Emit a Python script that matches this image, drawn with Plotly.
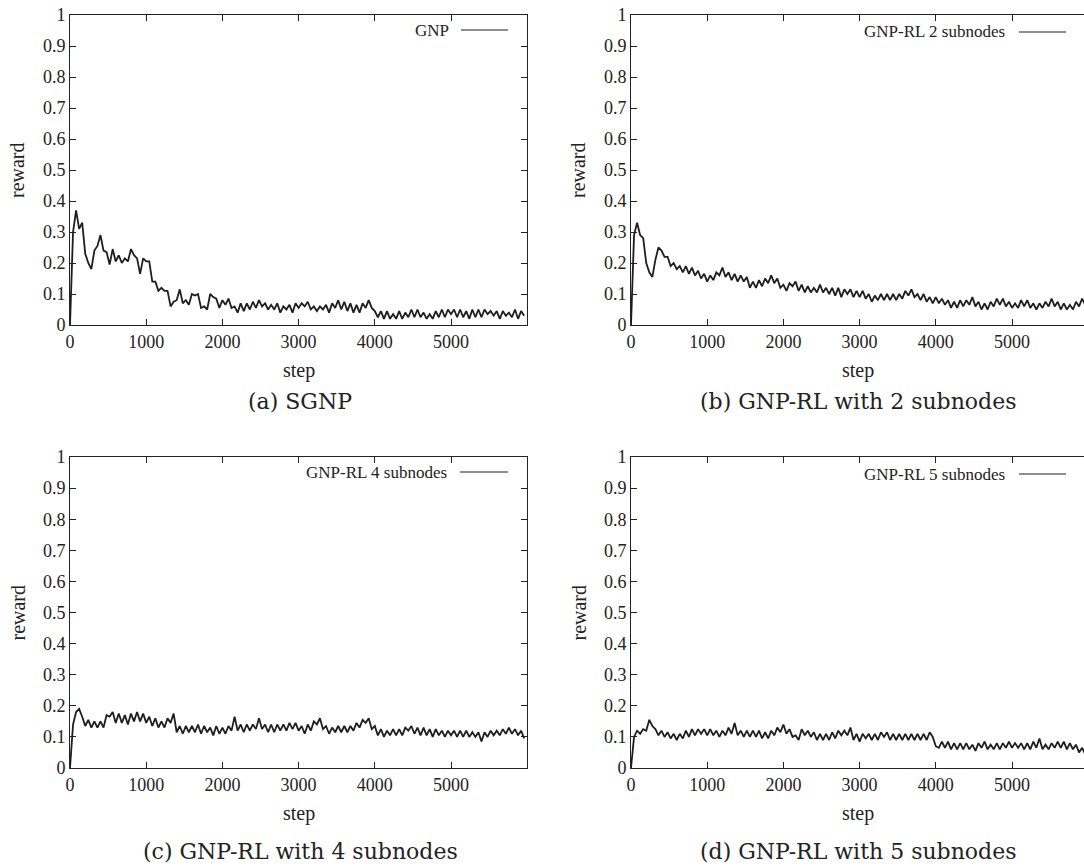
import plotly.graph_objects as go

# ---------------- data (every 40 steps) ----------------
steps = list(range(0, 6000, 40))

reward_sgnp = [
    0.00, 0.30, 0.37, 0.31, 0.33, 0.23, 0.20, 0.18, 0.24, 0.255,
    0.29, 0.24, 0.235, 0.195, 0.245, 0.205, 0.225, 0.20, 0.215, 0.205,
    0.245, 0.225, 0.215, 0.165, 0.215, 0.205, 0.205, 0.14, 0.14, 0.11,
    0.12, 0.11, 0.11, 0.06, 0.075, 0.08, 0.115, 0.07, 0.08, 0.065,
    0.10, 0.095, 0.10, 0.055, 0.06, 0.05, 0.10, 0.09, 0.085, 0.055,
    0.08, 0.065, 0.085, 0.055, 0.06, 0.04, 0.07, 0.045, 0.07, 0.05,
    0.075, 0.055, 0.08, 0.06, 0.07, 0.05, 0.065, 0.05, 0.07, 0.04,
    0.06, 0.05, 0.065, 0.04, 0.07, 0.055, 0.07, 0.06, 0.075, 0.05,
    0.06, 0.045, 0.06, 0.05, 0.065, 0.04, 0.07, 0.055, 0.08, 0.05,
    0.075, 0.045, 0.07, 0.04, 0.065, 0.04, 0.07, 0.055, 0.08, 0.055,
    0.045, 0.025, 0.045, 0.02, 0.045, 0.02, 0.035, 0.02, 0.045, 0.02,
    0.04, 0.025, 0.05, 0.025, 0.05, 0.025, 0.04, 0.02, 0.035, 0.02,
    0.045, 0.025, 0.05, 0.025, 0.05, 0.035, 0.05, 0.025, 0.05, 0.025,
    0.045, 0.02, 0.05, 0.025, 0.05, 0.025, 0.05, 0.035, 0.045, 0.03,
    0.045, 0.02, 0.045, 0.03, 0.04, 0.025, 0.05, 0.02, 0.045, 0.03,
]

reward_rl2 = [
    0.00, 0.29, 0.33, 0.29, 0.28, 0.20, 0.17, 0.155, 0.21, 0.25,
    0.24, 0.22, 0.22, 0.19, 0.20, 0.18, 0.19, 0.17, 0.19, 0.165,
    0.185, 0.16, 0.175, 0.15, 0.165, 0.14, 0.16, 0.145, 0.17, 0.16,
    0.185, 0.155, 0.17, 0.145, 0.165, 0.14, 0.16, 0.14, 0.155, 0.12,
    0.14, 0.12, 0.145, 0.125, 0.15, 0.135, 0.16, 0.135, 0.15, 0.12,
    0.13, 0.11, 0.135, 0.125, 0.14, 0.11, 0.13, 0.105, 0.125, 0.105,
    0.12, 0.105, 0.13, 0.105, 0.12, 0.10, 0.12, 0.095, 0.12, 0.09,
    0.115, 0.10, 0.115, 0.09, 0.11, 0.09, 0.11, 0.085, 0.10, 0.075,
    0.095, 0.08, 0.10, 0.08, 0.10, 0.08, 0.10, 0.08, 0.10, 0.085,
    0.11, 0.095, 0.115, 0.09, 0.10, 0.08, 0.10, 0.075, 0.09, 0.07,
    0.09, 0.07, 0.085, 0.065, 0.08, 0.055, 0.075, 0.055, 0.08, 0.06,
    0.08, 0.065, 0.09, 0.06, 0.075, 0.05, 0.07, 0.05, 0.075, 0.06,
    0.085, 0.065, 0.085, 0.06, 0.075, 0.055, 0.07, 0.055, 0.08, 0.06,
    0.08, 0.055, 0.07, 0.05, 0.07, 0.055, 0.075, 0.06, 0.085, 0.06,
    0.075, 0.05, 0.07, 0.05, 0.065, 0.05, 0.075, 0.06, 0.085, 0.065,
]

reward_rl4 = [
    0.00, 0.14, 0.18, 0.19, 0.165, 0.135, 0.155, 0.13, 0.15, 0.13,
    0.15, 0.13, 0.17, 0.165, 0.18, 0.145, 0.175, 0.145, 0.17, 0.14,
    0.175, 0.15, 0.18, 0.15, 0.175, 0.145, 0.165, 0.135, 0.16, 0.13,
    0.15, 0.13, 0.16, 0.145, 0.175, 0.115, 0.135, 0.11, 0.135, 0.115,
    0.135, 0.115, 0.14, 0.11, 0.135, 0.115, 0.13, 0.105, 0.135, 0.11,
    0.13, 0.11, 0.135, 0.12, 0.165, 0.12, 0.14, 0.115, 0.14, 0.12,
    0.14, 0.125, 0.16, 0.125, 0.14, 0.115, 0.14, 0.115, 0.14, 0.12,
    0.14, 0.12, 0.145, 0.125, 0.145, 0.12, 0.135, 0.11, 0.14, 0.12,
    0.15, 0.14, 0.16, 0.125, 0.135, 0.11, 0.13, 0.115, 0.135, 0.115,
    0.135, 0.115, 0.135, 0.12, 0.145, 0.13, 0.155, 0.145, 0.16, 0.125,
    0.135, 0.105, 0.125, 0.10, 0.12, 0.105, 0.125, 0.105, 0.125, 0.105,
    0.13, 0.12, 0.135, 0.11, 0.13, 0.105, 0.13, 0.105, 0.125, 0.10,
    0.125, 0.105, 0.12, 0.10, 0.12, 0.105, 0.12, 0.10, 0.12, 0.10,
    0.12, 0.10, 0.115, 0.10, 0.115, 0.085, 0.115, 0.10, 0.12, 0.105,
    0.12, 0.105, 0.125, 0.11, 0.13, 0.11, 0.125, 0.105, 0.12, 0.095,
]

reward_rl5 = [
    0.00, 0.10, 0.12, 0.11, 0.125, 0.12, 0.155, 0.135, 0.125, 0.105,
    0.12, 0.10, 0.115, 0.095, 0.11, 0.09, 0.11, 0.095, 0.12, 0.10,
    0.125, 0.105, 0.125, 0.11, 0.125, 0.105, 0.125, 0.105, 0.12, 0.10,
    0.12, 0.105, 0.13, 0.11, 0.145, 0.105, 0.12, 0.10, 0.12, 0.10,
    0.12, 0.10, 0.12, 0.095, 0.115, 0.095, 0.12, 0.105, 0.13, 0.115,
    0.14, 0.11, 0.125, 0.10, 0.105, 0.09, 0.125, 0.105, 0.12, 0.10,
    0.115, 0.09, 0.11, 0.09, 0.11, 0.09, 0.115, 0.095, 0.12, 0.105,
    0.12, 0.105, 0.13, 0.09, 0.11, 0.085, 0.11, 0.095, 0.11, 0.09,
    0.11, 0.09, 0.115, 0.10, 0.115, 0.09, 0.11, 0.09, 0.11, 0.09,
    0.11, 0.09, 0.11, 0.09, 0.11, 0.09, 0.11, 0.09, 0.115, 0.10,
    0.07, 0.065, 0.085, 0.065, 0.085, 0.06, 0.08, 0.06, 0.08, 0.06,
    0.08, 0.06, 0.075, 0.055, 0.08, 0.065, 0.085, 0.06, 0.075, 0.06,
    0.08, 0.06, 0.08, 0.065, 0.085, 0.065, 0.08, 0.065, 0.08, 0.06,
    0.08, 0.06, 0.085, 0.065, 0.095, 0.06, 0.075, 0.06, 0.08, 0.065,
    0.085, 0.065, 0.085, 0.06, 0.08, 0.06, 0.075, 0.05, 0.065, 0.045,
]

legend_names = ["GNP", "GNP-RL 2 subnodes", "GNP-RL 4 subnodes", "GNP-RL 5 subnodes"]
captions = ["(a) SGNP", "(b) GNP-RL with 2 subnodes",
            "(c) GNP-RL with 4 subnodes", "(d) GNP-RL with 5 subnodes"]
x_tickvals = [0, 1000, 2000, 3000, 4000, 5000]
y_tickvals = [0, 0.1, 0.2, 0.3, 0.4, 0.5, 0.6, 0.7, 0.8, 0.9, 1]
y_ticktext = ["0", "0.1", "0.2", "0.3", "0.4", "0.5", "0.6", "0.7", "0.8", "0.9", "1"]

series = [reward_sgnp, reward_rl2, reward_rl4, reward_rl5]

# ---------------- layout (pixel geometry) ----------------
W, H = 1084, 868
PX_PER_STEP = 0.0762
# (left, right, top, bottom) in pixels for each panel
panels = [
    (70, 527, 15, 325),
    (631, 1084, 15, 325),
    (70, 527, 457, 768),
    (631, 1084, 457, 768),
]
# legend: (text right end, line start, line end, y) relative to panel left/top
legend_geo = [(381, 391, 438, 15), (376, 388, 435, 17),
              (379, 390, 438, 15), (376, 388, 435, 17)]

def px(xp):
    return xp / W

def py(yp):
    return 1 - yp / H

TXT = "#222"
AX_FONT = dict(family="Liberation Serif, Times New Roman, serif", size=18, color=TXT)
TITLE_FONT = dict(family="Liberation Serif, Times New Roman, serif", size=20, color=TXT)
CAP_FONT = dict(family="DejaVu Serif, serif", size=22, color=TXT)
LINE_COLOR = "#1e1e1e"

fig = go.Figure()
annotations = []
shapes = []

for i, (l, r, t, b) in enumerate(panels):
    n = i + 1
    xa = "x" if n == 1 else f"x{n}"
    ya = "y" if n == 1 else f"y{n}"
    fig.add_trace(go.Scatter(
        x=steps, y=series[i], mode="lines", name=legend_names[i],
        line=dict(color=LINE_COLOR, width=1.8),
        xaxis=xa, yaxis=ya, showlegend=False, hoverinfo="skip",
    ))
    xr = (r - l) / PX_PER_STEP
    right_cut = (r >= W)
    fig.layout[f"xaxis{'' if n == 1 else n}"] = dict(
        domain=[px(l), px(r)], range=[0, xr], anchor=ya, automargin=False,
        tickvals=x_tickvals, ticks="inside", ticklen=6, tickcolor=TXT,
        showline=True, linecolor=TXT, linewidth=1, mirror="ticks",
        showgrid=False, zeroline=False, tickfont=AX_FONT, fixedrange=True,
    )
    fig.layout[f"yaxis{'' if n == 1 else n}"] = dict(
        domain=[py(b), py(t)], range=[0, 1], anchor=xa, automargin=False,
        tickvals=y_tickvals, ticktext=y_ticktext, ticks="inside", ticklen=6,
        tickcolor=TXT, showline=True, linecolor=TXT, linewidth=1,
        mirror=False if right_cut else "ticks",
        showgrid=False, zeroline=False, tickfont=AX_FONT, fixedrange=True,
    )
    # axis titles
    annotations.append(dict(
        x=px((l + min(r, l + 457)) / 2), y=py(b + 45), xref="paper", yref="paper",
        text="step", showarrow=False, xanchor="center", yanchor="middle",
        font=TITLE_FONT,
    ))
    annotations.append(dict(
        x=px(l - 53), y=py((t + b) / 2), xref="paper", yref="paper",
        text="reward", showarrow=False, xanchor="center", yanchor="middle",
        textangle=-90, font=TITLE_FONT,
    ))
    # legend entry (gnuplot style: text then sample line), top-right inside
    te, l0, l1, dy = legend_geo[i]
    ly = t + dy
    annotations.append(dict(
        x=px(l + te), y=py(ly), xref="paper", yref="paper",
        text=legend_names[i], showarrow=False, xanchor="right", yanchor="middle",
        font=dict(family=AX_FONT["family"], size=17, color=TXT),
    ))
    shapes.append(dict(type="line", xref="paper", yref="paper",
                       x0=px(l + l0), x1=px(l + l1), y0=py(ly), y1=py(ly),
                       line=dict(color=LINE_COLOR, width=1.2)))

cap_pos = [(300, 402), (858, 402), (300, 851), (858, 851)]
for i, (cx, cy) in enumerate(cap_pos):
    annotations.append(dict(
        x=px(cx), y=py(cy), xref="paper", yref="paper", text=captions[i],
        showarrow=False, xanchor="center", yanchor="middle", font=CAP_FONT,
    ))

fig.update_layout(
    width=W, height=H, margin=dict(l=0, r=0, t=0, b=0),
    paper_bgcolor="white", plot_bgcolor="white",
    annotations=annotations, shapes=shapes, showlegend=False,
)

fig.write_html(
    "out.html",
    config={"displayModeBar": False, "staticPlot": True},
    post_script="document.body.style.margin='0px';document.body.style.overflow='hidden';",
)
